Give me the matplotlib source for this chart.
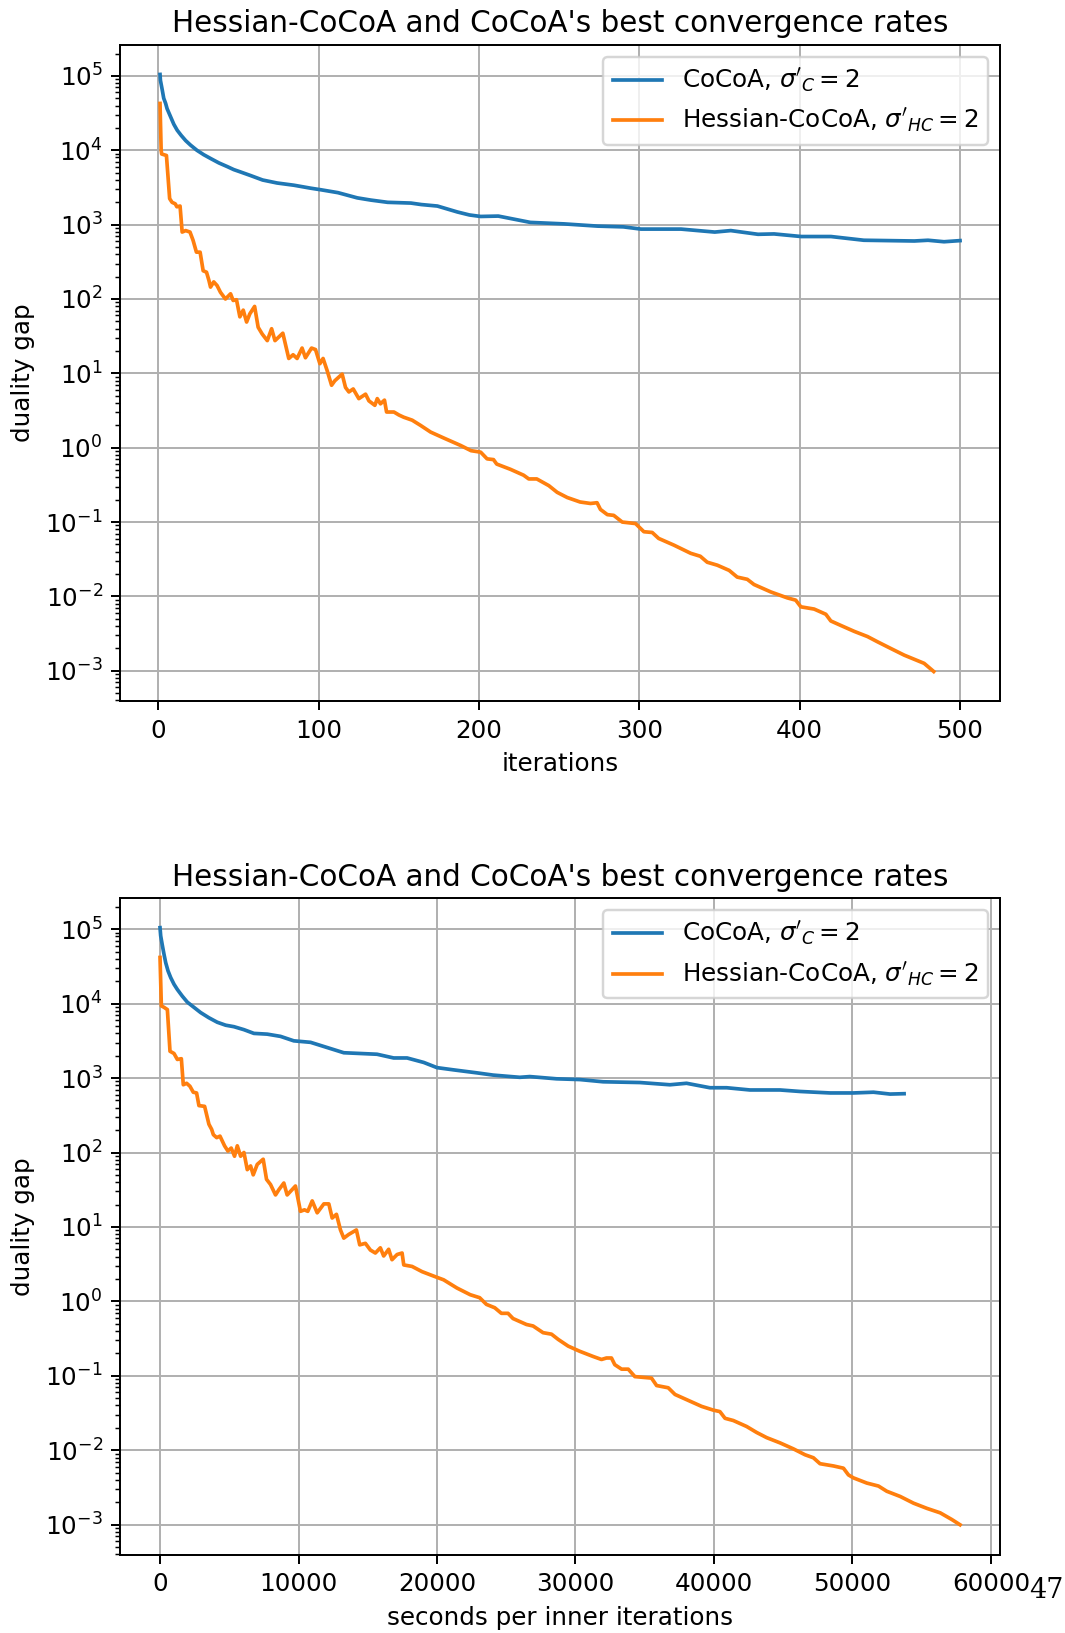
import numpy as np
import matplotlib
matplotlib.use("Agg")
import matplotlib.pyplot as plt

# ---- data (gap values stored as log10) ----
# top panel: duality gap vs. iterations
cocoa_iter = [1, 1.25, 2.4, 3.3, 4.5, 5.4, 7.6, 9.6, 11.7, 14.2, 17, 20, 24,
              28.3, 32.5, 37.7, 43, 47, 51, 57.5, 65, 74, 84.5, 95, 101, 112,
              124, 132.5, 143, 157.5, 164, 174, 186.5, 194, 201, 212, 232, 253,
              274, 290, 301, 326, 347, 357, 374, 384, 401, 419.5, 440, 471.5,
              480, 490, 500]
cocoa_iter_loggap = [5.02, 4.94, 4.81, 4.70, 4.63, 4.56, 4.45, 4.35, 4.27, 4.20,
                     4.13, 4.07, 4.0, 3.94, 3.89, 3.83, 3.78, 3.74, 3.71, 3.66,
                     3.60, 3.56, 3.53, 3.49, 3.47, 3.43, 3.36, 3.33, 3.30, 3.29,
                     3.27, 3.25, 3.17, 3.13, 3.11, 3.115, 3.03, 3.01, 2.98, 2.97,
                     2.94, 2.94, 2.90, 2.92, 2.87, 2.875, 2.84, 2.84, 2.79, 2.78,
                     2.79, 2.77, 2.785]

hess_iter = [1, 1.7, 2, 5, 7, 8.5, 10.5, 11.5, 13.5, 14.8, 17, 19.7, 21.6, 23.7,
             26, 27.9, 30, 31.5, 32.5, 34.5, 36.6, 38.7, 41.8, 45, 46.6, 48.7,
             50.8, 52.9, 55, 57, 60, 62.2, 64.7, 67.9, 70.6, 72.7, 77.6, 81.3,
             84, 86.5, 89.6, 91.7, 95.5, 98, 100.7, 102.7, 105.2, 108, 110,
             114.6, 116.7, 118.8, 121.5, 125, 129.2, 131.3, 135, 136.5, 138.5,
             141, 142.3, 146.9, 150, 153, 158.3, 163.5, 169.8, 178, 188.5, 195,
             201, 205, 209, 211, 219.5, 227.8, 231, 236, 243.5, 248.7, 255, 263,
             269.5, 273.6, 275.7, 280, 284, 289.3, 297.6, 302.8, 308, 312, 321.5,
             332, 338, 342.3, 348.6, 356, 361, 367.3, 371.5, 382, 392.3, 397.5,
             400.7, 409, 416.3, 419.4, 425.6, 434, 442.3, 448.5, 456.8, 465.2,
             477.6, 483.6]
hess_iter_loggap = [4.63, 4.0, 3.95, 3.93, 3.35, 3.30, 3.28, 3.24, 3.25, 2.90,
                    2.92, 2.90, 2.79, 2.63, 2.63, 2.38, 2.36, 2.25, 2.16, 2.23,
                    2.18, 2.09, 2.00, 2.07, 1.98, 1.99, 1.76, 1.85, 1.69, 1.80,
                    1.90, 1.62, 1.53, 1.44, 1.60, 1.44, 1.54, 1.20, 1.25, 1.20,
                    1.34, 1.21, 1.34, 1.32, 1.13, 1.20, 1.04, 0.84, 0.90, 0.99,
                    0.81, 0.75, 0.79, 0.66, 0.72, 0.63, 0.57, 0.66, 0.59, 0.64,
                    0.48, 0.48, 0.44, 0.41, 0.37, 0.30, 0.21, 0.13, 0.03, -0.04,
                    -0.06, -0.15, -0.16, -0.22, -0.29, -0.37, -0.42, -0.42, -0.51,
                    -0.60, -0.67, -0.73, -0.75, -0.74, -0.83, -0.90, -0.91, -1.00,
                    -1.02, -1.13, -1.14, -1.22, -1.31, -1.42, -1.46, -1.54, -1.58,
                    -1.65, -1.74, -1.77, -1.84, -1.94, -2.02, -2.05, -2.14, -2.17,
                    -2.24, -2.33, -2.39, -2.47, -2.54, -2.61, -2.70, -2.79, -2.90,
                    -3.01]

# bottom panel: duality gap vs. elapsed time
cocoa_time = [0, 48, 170, 290, 410, 577, 770, 1010, 1250, 1610, 1970, 2450,
              2930, 3530, 4130, 4740, 5340, 6060, 6780, 7740, 8700, 9660, 10870,
              12070, 13270, 14470, 15670, 16870, 17840, 19040, 20000, 21200,
              22880, 24050, 25980, 26700, 28630, 30310, 32000, 34650, 36820,
              38020, 39710, 40920, 42600, 44770, 46220, 48390, 50070, 51520,
              52720, 53730]
cocoa_time_loggap = [5.02, 4.91, 4.78, 4.66, 4.55, 4.44, 4.35, 4.26, 4.19, 4.10,
                     4.02, 3.95, 3.88, 3.81, 3.75, 3.71, 3.69, 3.65, 3.60, 3.59,
                     3.56, 3.50, 3.48, 3.41, 3.34, 3.33, 3.32, 3.27, 3.27, 3.21,
                     3.14, 3.11, 3.07, 3.04, 3.01, 3.02, 2.99, 2.98, 2.95, 2.94,
                     2.91, 2.93, 2.87, 2.87, 2.84, 2.84, 2.82, 2.80, 2.80, 2.81,
                     2.785, 2.79]

hess_time = [0, 96, 290, 530, 720, 1010, 1250, 1540, 1680, 1920, 2160, 2400,
             2640, 2810, 3220, 3530, 3730, 3850, 4090, 4330, 4660, 4900, 5140,
             5380, 5580, 5820, 6060, 6300, 6540, 6730, 7020, 7450, 7690, 7980,
             8340, 8580, 8940, 9180, 9780, 10140, 10430, 10670, 10990, 11350,
             11830, 12190, 12430, 12740, 13030, 13270, 13630, 14180, 14420,
             14830, 15190, 15550, 15910, 16150, 16510, 16750, 17120, 17480,
             17600, 18200, 18920, 19760, 20480, 21440, 22400, 23080, 23570,
             24170, 24650, 25130, 25490, 26460, 26940, 27660, 28270, 28750,
             29470, 30310, 31280, 31880, 32240, 32600, 32840, 33330, 33810,
             34290, 35490, 35860, 36700, 37190, 38270, 39110, 39950, 40430,
             40800, 41400, 42360, 43080, 43810, 44770, 45730, 46580, 47180,
             47660, 48630, 49350, 49710, 50070, 51040, 51880, 52480, 53450,
             54410, 55380, 56340, 57180, 57770]
hess_time_loggap = [4.62, 3.97, 3.95, 3.92, 3.36, 3.33, 3.25, 3.26, 2.91, 2.93,
                    2.89, 2.81, 2.80, 2.63, 2.62, 2.38, 2.31, 2.24, 2.20, 2.22,
                    2.09, 2.02, 2.06, 1.95, 2.09, 1.95, 2.00, 1.77, 1.82, 1.70,
                    1.84, 1.91, 1.64, 1.57, 1.43, 1.50, 1.59, 1.43, 1.55, 1.21,
                    1.23, 1.21, 1.35, 1.19, 1.31, 1.31, 1.12, 1.17, 0.96, 0.85,
                    0.90, 0.96, 0.76, 0.78, 0.69, 0.65, 0.72, 0.61, 0.70, 0.56,
                    0.63, 0.65, 0.49, 0.47, 0.40, 0.34, 0.29, 0.18, 0.09, 0.05,
                    -0.04, -0.085, -0.16, -0.16, -0.23, -0.31, -0.33, -0.42,
                    -0.44, -0.51, -0.60, -0.67, -0.74, -0.78, -0.76, -0.76, -0.85,
                    -0.91, -0.91, -1.01, -1.03, -1.13, -1.16, -1.25, -1.34, -1.41,
                    -1.46, -1.48, -1.57, -1.60, -1.68, -1.76, -1.83, -1.90, -1.98,
                    -2.06, -2.10, -2.18, -2.21, -2.24, -2.33, -2.37, -2.44, -2.48,
                    -2.55, -2.62, -2.71, -2.78, -2.84, -2.93, -3.00]

title = "Hessian-CoCoA and CoCoA's best convergence rates"
label_cocoa = r"CoCoA, $\sigma'_C = 2$"
label_hess = r"Hessian-CoCoA, $\sigma'_{HC} = 2$"

DPI = 177
fig = plt.figure(figsize=(1065 / DPI, 1633 / DPI), dpi=DPI)

panels = [
    ([0.1127, 0.5705, 0.8263, 0.4022], cocoa_iter, cocoa_iter_loggap,
     hess_iter, hess_iter_loggap, "iterations"),
    ([0.1127, 0.0480, 0.8263, 0.4022], cocoa_time, cocoa_time_loggap,
     hess_time, hess_time_loggap, "seconds per inner iterations"),
]

for rect, cx, cy, hx, hy, xlab in panels:
    ax = fig.add_axes(rect)
    ax.plot(cx, 10.0 ** np.array(cy), color="C0", label=label_cocoa)
    ax.plot(hx, 10.0 ** np.array(hy), color="C1", label=label_hess)
    ax.set_yscale("log")
    ax.set_title(title, pad=5)
    ax.set_xlabel(xlab)
    ax.set_ylabel("duality gap")
    ax.grid(True)
    ax.legend(loc="upper right")

# page number from the source document
fig.text(1029 / 1065, 1 - 1598 / 1633, "47", family="DejaVu Serif",
         fontsize=11, ha="left", va="baseline")

fig.savefig("out.png", dpi=DPI)
